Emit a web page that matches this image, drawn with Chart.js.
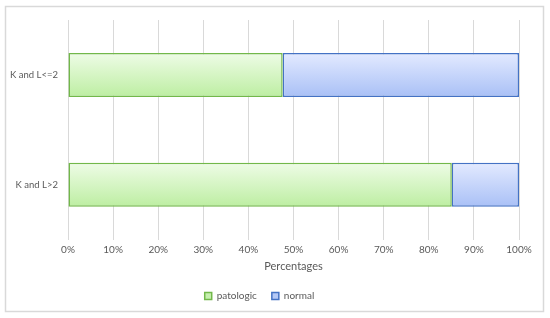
<!DOCTYPE html>
<html>
<head>
<meta charset="utf-8">
<script src="https://cdn.jsdelivr.net/npm/chart.js@4.4.0/dist/chart.umd.min.js"></script>
<style>
  html, body { margin: 0; padding: 0; background: #fff; }
  #wrap { width: 550px; height: 318px; }
</style>
</head>
<body>
<div id="wrap"><canvas id="kappaChart" width="550" height="318"></canvas></div>
<script>
var categories = ['K and L<=2', 'K and L>2'];
var patologic = [47.6, 85.1];
var normal = [52.4, 14.9];
var xTicks = [0, 10, 20, 30, 40, 50, 60, 70, 80, 90, 100];

var textColor = '#595959';
var fontFamily = 'Lato, "Open Sans", sans-serif';

// vertical gradient over each bar, like the office style fill
function barGradient(top, bottom) {
    return function (context) {
        var chart = context.chart;
        var y = chart.scales.y;
        var area = chart.chartArea;
        if (!y || !area || context.dataIndex === undefined) return bottom;
        var band = (area.bottom - area.top) / categories.length;
        var half = band * 0.4 / 2;
        var c = y.getPixelForValue(context.dataIndex);
        var g = chart.ctx.createLinearGradient(0, c - half, 0, c + half);
        g.addColorStop(0, top);
        g.addColorStop(1, bottom);
        return g;
    };
}

var borderBox = {
    id: 'borderBox',
    beforeDraw: function (chart) {
        var ctx = chart.ctx;
        ctx.save();
        ctx.fillStyle = '#ffffff';
        ctx.fillRect(0, 0, chart.width, chart.height);
        ctx.strokeStyle = '#d9d9d9';
        ctx.lineWidth = 1.5;
        ctx.strokeRect(5.5, 6.5, 538, 305);
        ctx.restore();
    }
};

var data = {
    labels: categories,
    datasets: [{
        label: 'patologic',
        data: patologic,
        backgroundColor: barGradient('#eefce6', '#bdeea2'),
        borderColor: '#72b84a',
        borderWidth: 1.5,
        borderSkipped: false,
        barPercentage: 0.5,
        categoryPercentage: 0.8
    }, {
        label: 'normal',
        data: normal,
        backgroundColor: barGradient('#e3eaff', '#a9c0f6'),
        borderColor: '#4472c4',
        borderWidth: 1.5,
        borderSkipped: false,
        barPercentage: 0.5,
        categoryPercentage: 0.8
    }]
};

var ctx = document.getElementById('kappaChart');

var kappaChart = new Chart(ctx, {
    type: 'bar',
    data: data,
    plugins: [borderBox],
    options: {
        indexAxis: 'y',
        responsive: false,
        animation: false,
        devicePixelRatio: 1,
        layout: {
            padding: { left: 0, right: 31, top: 20, bottom: 7 }
        },
        scales: {
            x: {
                stacked: true,
                min: 0,
                max: 100,
                afterBuildTicks: function (scale) {
                    scale.ticks = xTicks.map(function (v) { return { value: v }; });
                },
                border: { display: false },
                grid: { color: '#d9d9d9', lineWidth: 1, drawTicks: false },
                ticks: {
                    padding: 4,
                    color: textColor,
                    font: { family: fontFamily, size: 10 },
                    callback: function (v) { return v + '%'; }
                },
                title: {
                    display: true,
                    text: 'Percentages',
                    color: textColor,
                    font: { family: fontFamily, size: 11 },
                    padding: { top: 0, bottom: 3 }
                }
            },
            y: {
                stacked: true,
                afterFit: function (scale) { scale.width = 68; },
                border: { display: false },
                grid: { display: false, drawTicks: false },
                ticks: {
                    padding: 10,
                    color: textColor,
                    font: { family: fontFamily, size: 9.5 }
                }
            }
        },
        plugins: {
            tooltip: { enabled: false },
            legend: {
                position: 'bottom',
                labels: {
                    color: textColor,
                    font: { family: fontFamily, size: 10 },
                    boxWidth: 7,
                    boxHeight: 7,
                    padding: 15,
                    generateLabels: function () {
                        return [
                            { text: 'patologic', fillStyle: '#c6efae', strokeStyle: '#72b84a', lineWidth: 1.5, datasetIndex: 0, fontColor: textColor },
                            { text: 'normal', fillStyle: '#b4c8f6', strokeStyle: '#4472c4', lineWidth: 1.5, datasetIndex: 1, fontColor: textColor }
                        ];
                    }
                }
            }
        }
    }
});
</script>
</body>
</html>
